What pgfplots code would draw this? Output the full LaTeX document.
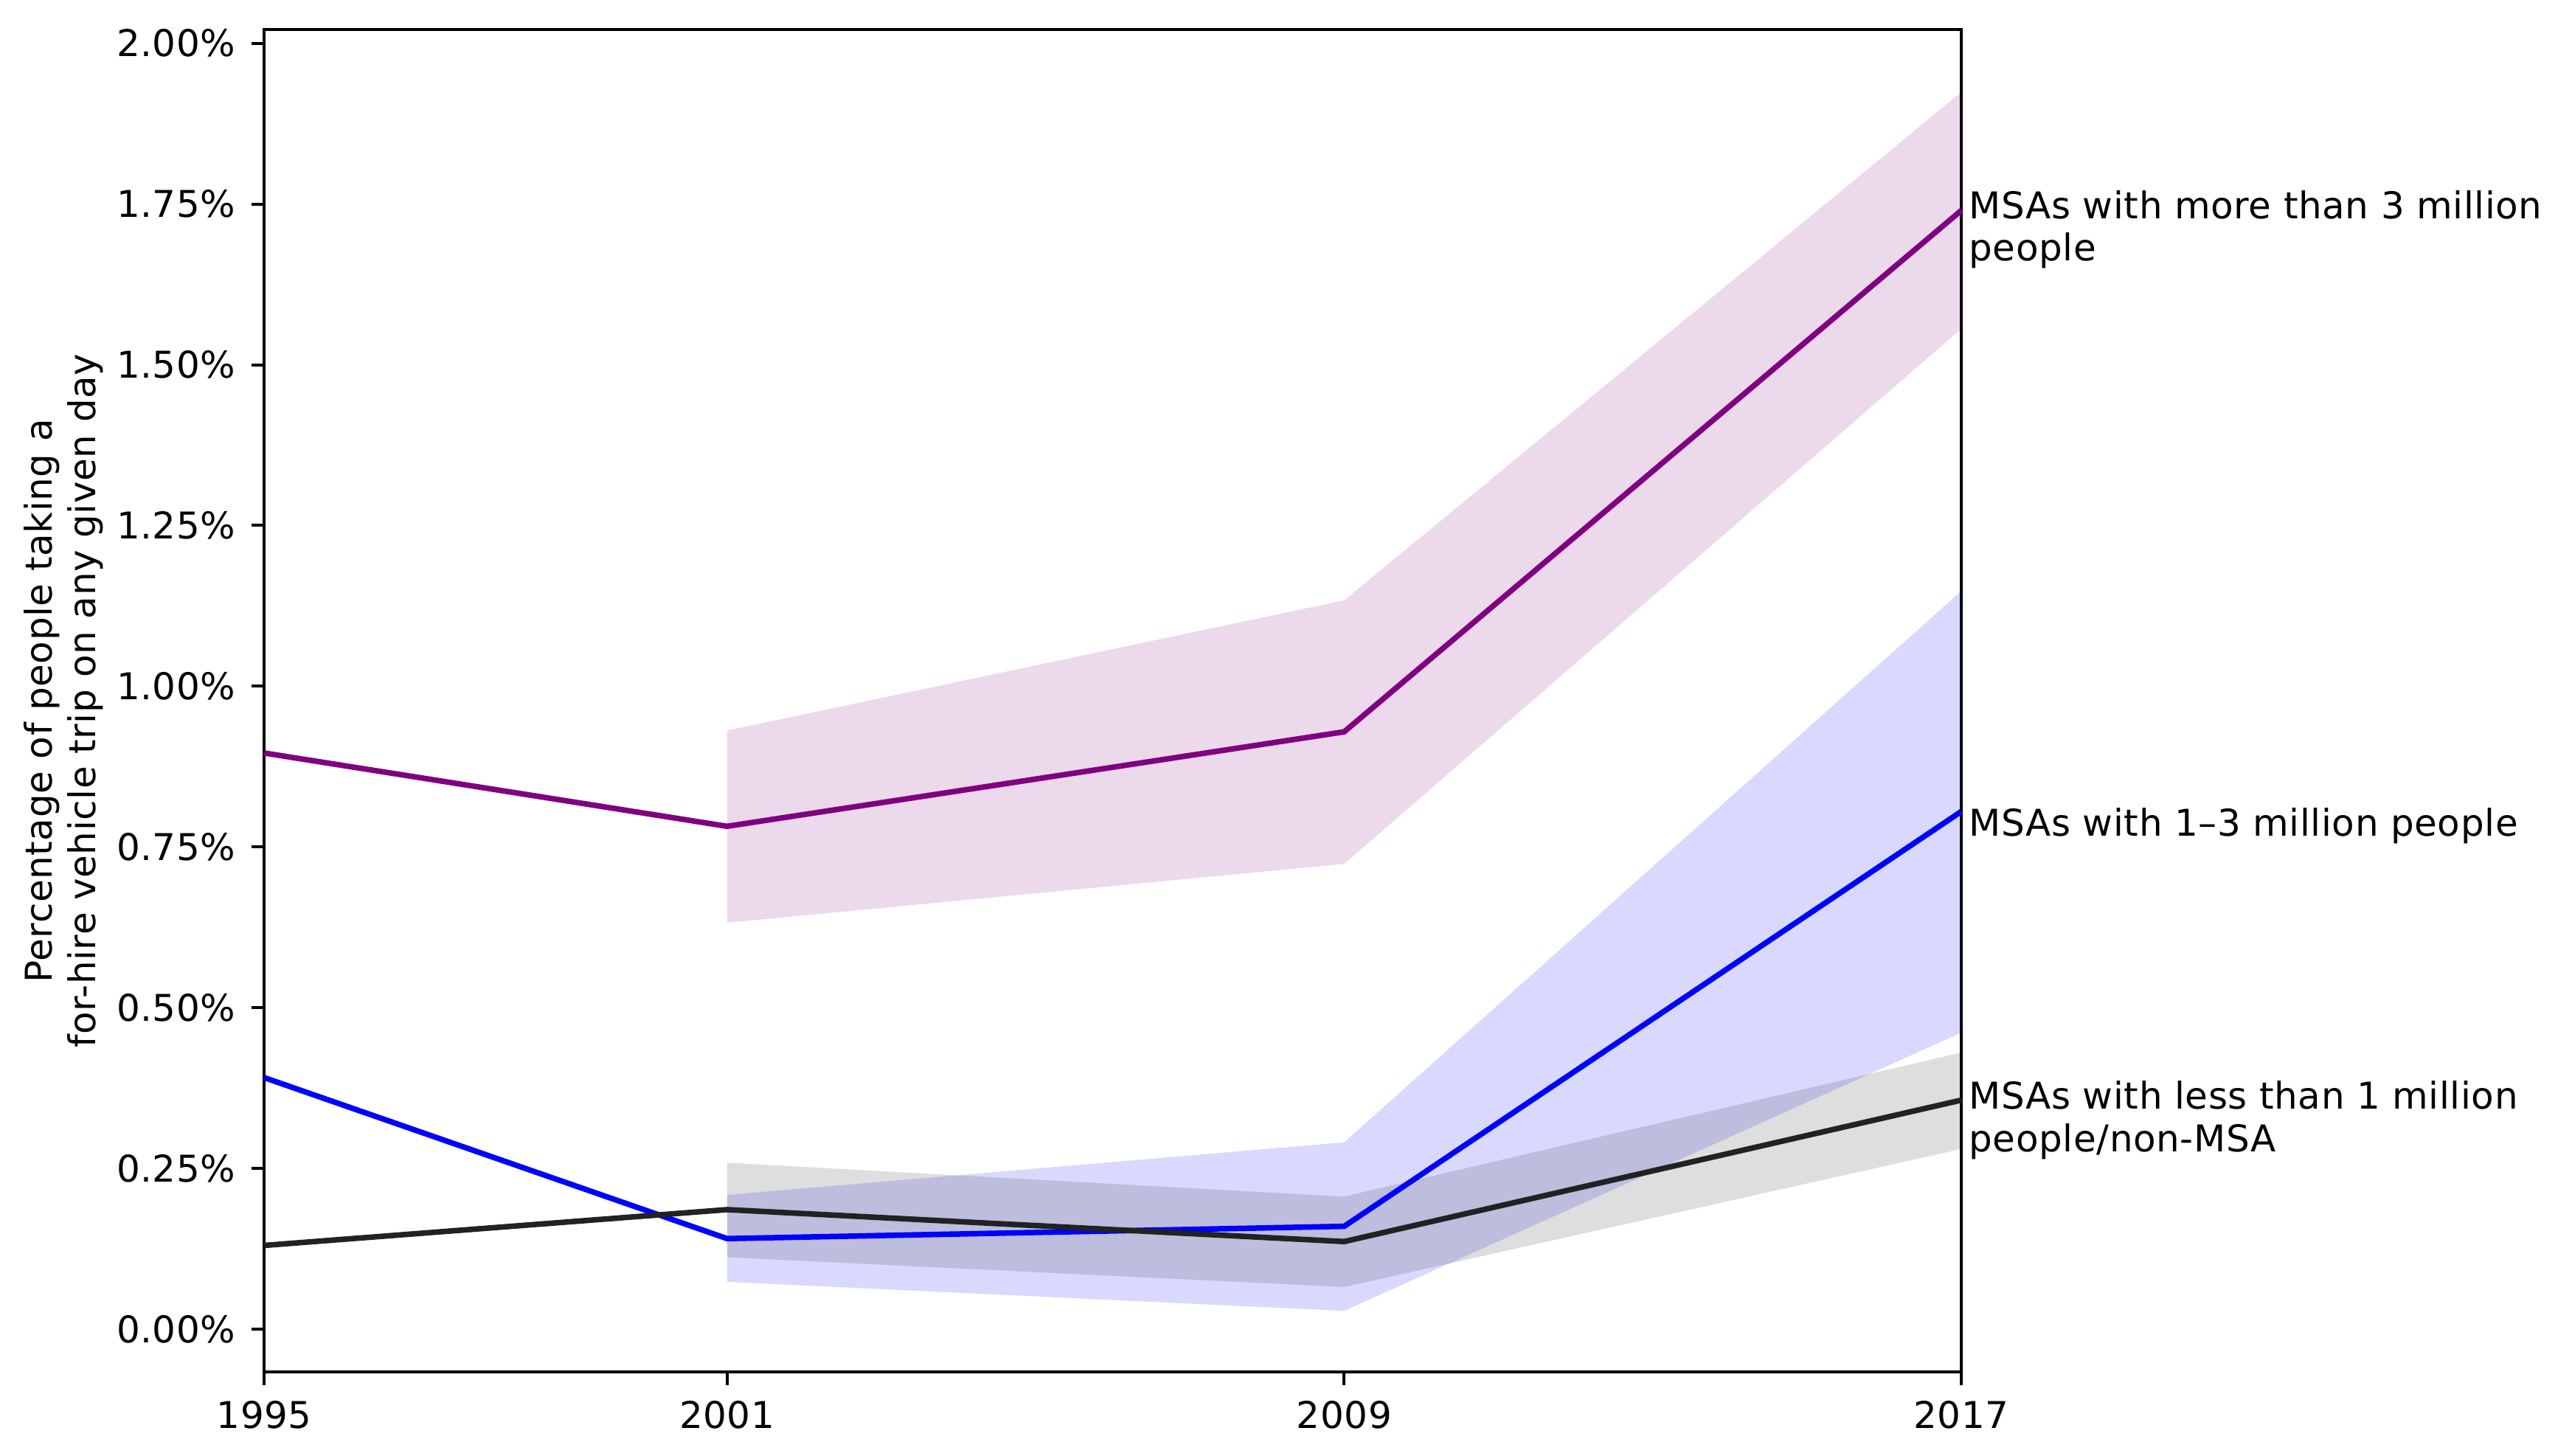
\documentclass[border=0pt]{standalone}
\usepackage{fontspec}
\setmainfont{DejaVu Sans}[LetterSpace=1.2]
\usepackage{pgfplots}
\pgfplotsset{compat=1.18}
\usepgfplotslibrary{fillbetween}
\definecolor{cpurple}{RGB}{128,0,128}
\definecolor{cblue}{RGB}{0,0,255}
\definecolor{cblack}{RGB}{34,34,34}
\begin{document}
\begin{tikzpicture}
\begin{axis}[
  scale only axis,
  width=460.1bp, height=363.9bp,
  xmin=1995, xmax=2017, ymin=-0.0669, ymax=2.021,
  clip=false,
  axis line style={line width=0.8bp, black},
  tick align=outside, tick pos=left,
  major tick length=3.5bp,
  every tick/.style={line width=0.8bp, black},
  xtick={1995,2001,2009,2017},
  xticklabels={1995,2001,2009,2017},
  ytick={0,0.25,0.5,0.75,1,1.25,1.5,1.75,2},
  yticklabel={\pgfmathprintnumber[fixed,fixed zerofill,precision=2]{\tick}\%},
  /pgf/number format/assume math mode=true,
  xticklabel style={anchor=base, inner sep=0pt, yshift=-11.7bp},
  yticklabel style={anchor=east, inner sep=0pt, xshift=-4.1bp},
  font=\fontsize{10bp}{12bp}\selectfont,
]
% bands
\addplot[draw=none, name path=pu] coordinates {(2001,0.931) (2009,1.1335) (2017,1.924)};
\addplot[draw=none, name path=pl] coordinates {(2001,0.632) (2009,0.7235) (2017,1.556)};
\addplot[fill=cpurple, fill opacity=0.15, draw=none] fill between[of=pu and pl];
\addplot[draw=none, name path=bu] coordinates {(2001,0.2086) (2009,0.2904) (2017,1.148)};
\addplot[draw=none, name path=bl] coordinates {(2001,0.0733) (2009,0.0282) (2017,0.461)};
\addplot[fill=cblue, fill opacity=0.15, draw=none] fill between[of=bu and bl];
\addplot[draw=none, name path=ku] coordinates {(2001,0.2587) (2009,0.206) (2017,0.430)};
\addplot[draw=none, name path=kl] coordinates {(2001,0.1115) (2009,0.0653) (2017,0.280)};
\addplot[fill=black, fill opacity=0.13, draw=none] fill between[of=ku and kl];
% lines
\addplot[cpurple, line width=1.5bp, mark=none] coordinates {(1995,0.896) (2001,0.782) (2009,0.929) (2017,1.740)};
\addplot[cblue, line width=1.5bp, mark=none] coordinates {(1995,0.391) (2001,0.1406) (2009,0.1597) (2017,0.805)};
\addplot[cblack, line width=1.5bp, mark=none] coordinates {(1995,0.130) (2001,0.1857) (2009,0.136) (2017,0.356)};
% annotations
\node[anchor=base west, inner sep=0pt, xshift=1.9bp] at (axis cs:2017,1.7273) {MSAs with more than 3 million};
\node[anchor=base west, inner sep=0pt, xshift=1.9bp] at (axis cs:2017,1.6619) {people};
\node[anchor=base west, inner sep=0pt, xshift=1.9bp] at (axis cs:2017,0.7667) {MSAs with 1–3 million people};
\node[anchor=base west, inner sep=0pt, xshift=1.9bp] at (axis cs:2017,0.3422) {MSAs with less than 1 million};
\node[anchor=base west, inner sep=0pt, xshift=1.9bp] at (axis cs:2017,0.2763) {people/non-MSA};
% y label
\node[rotate=90, anchor=base, inner sep=0pt] at (axis description cs:-0.12532,0.5) {Percentage of people taking a};
\node[rotate=90, anchor=base, inner sep=0pt] at (axis description cs:-0.09967,0.5) {for-hire vehicle trip on any given day};
\end{axis}
\pgfresetboundingbox
\path[use as bounding box] (-71.66bp,-22.6bp) rectangle (625.7bp,372bp);
\end{tikzpicture}
\end{document}
